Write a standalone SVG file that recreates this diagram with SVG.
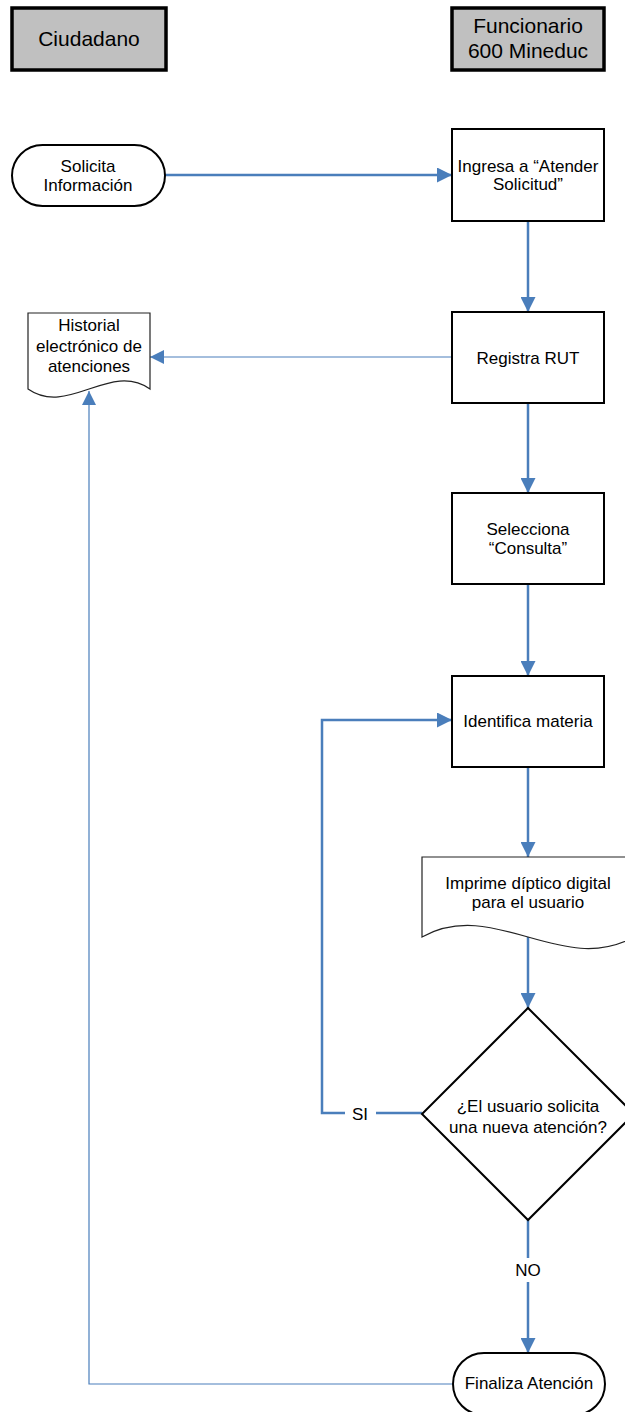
<svg xmlns="http://www.w3.org/2000/svg" width="625" height="1412" viewBox="0 0 625 1412">
  <defs>
    <style>
      text { font-family: "Liberation Sans", Arial, sans-serif; font-size: 17px; fill: #000; text-anchor: middle; }
      .hdr rect { fill: #c0c0c0; stroke: #000; stroke-width: 3.5; }
      .hdr text { font-size: 21px; }
      .box { fill: #fff; stroke: #000; stroke-width: 2; }
      .doc { fill: #fff; stroke: #222; stroke-width: 1.2; }
      .dec { fill: #fff; stroke: #000; stroke-width: 2; }
      .flow { fill: none; stroke: #4a7ebb; stroke-width: 2.5; }
      .thin { fill: none; stroke: #4a7ebb; stroke-width: 1.2; }
      .lbl { fill: #fff; stroke: none; }
    </style>
    <marker id="arrow" viewBox="0 0 10 10" refX="10" refY="5" markerWidth="6" markerHeight="6" markerUnits="strokeWidth" orient="auto">
      <path d="M0,0 L10,5 L0,10 Z" fill="#4a7ebb"/>
    </marker>
    <marker id="arrowThin" viewBox="0 0 10 10" refX="10" refY="5" markerWidth="12" markerHeight="12" markerUnits="strokeWidth" orient="auto">
      <path d="M0,0 L10,5 L0,10 Z" fill="#4a7ebb"/>
    </marker>
  </defs>

  <!-- lane headers -->
  <g id="lane-ciudadano" class="hdr">
    <rect x="12" y="8" width="154" height="62"/>
    <text x="89" y="46">Ciudadano</text>
  </g>
  <g id="lane-funcionario" class="hdr">
    <rect x="452" y="8" width="152" height="62"/>
    <text x="528" y="33">Funcionario</text>
    <text x="528" y="58">600 Mineduc</text>
  </g>

  <!-- connectors -->
  <g id="connectors">
    <path class="flow" d="M165,175 H452" marker-end="url(#arrow)"/>
    <path class="flow" d="M528,221 V312" marker-end="url(#arrow)"/>
    <path class="thin" d="M452,357 H150" marker-end="url(#arrowThin)"/>
    <path class="flow" d="M528,403 V493" marker-end="url(#arrow)"/>
    <path class="flow" d="M528,584 V676" marker-end="url(#arrow)"/>
    <path class="flow" d="M528,767 V857" marker-end="url(#arrow)"/>
    <path class="flow" d="M528,937 V1008" marker-end="url(#arrow)"/>
    <path class="flow" d="M422,1113 H322 V720 H452" marker-end="url(#arrow)"/>
    <rect class="lbl" x="345" y="1103" width="31" height="22"/>
    <text x="360" y="1120">SI</text>
    <path class="flow" d="M528,1220 V1353" marker-end="url(#arrow)"/>
    <rect class="lbl" x="511" y="1258" width="34" height="24"/>
    <text x="528" y="1276">NO</text>
    <path class="thin" d="M452,1384 H89 V391" marker-end="url(#arrowThin)"/>
  </g>

  <!-- nodes -->
  <g id="solicita">
    <rect class="box" x="12" y="145" width="153" height="61" rx="30.5" ry="30.5"/>
    <text x="88" y="172">Solicita</text>
    <text x="88" y="191">Información</text>
  </g>
  <g id="ingresa">
    <rect class="box" x="452" y="129" width="152" height="92"/>
    <text x="528" y="172">Ingresa a “Atender</text>
    <text x="528" y="190">Solicitud”</text>
  </g>
  <g id="historial">
    <path class="doc" d="M28,313 H150 V389 C110,417 68,361 28,389 Z" transform="matrix(-1 0 0 1 178 0)"/>
    <text x="89" y="331">Historial</text>
    <text x="89" y="352">electrónico de</text>
    <text x="89" y="372">atenciones</text>
  </g>
  <g id="registra">
    <rect class="box" x="452" y="312" width="152" height="91"/>
    <text x="528" y="364">Registra RUT</text>
  </g>
  <g id="selecciona">
    <rect class="box" x="452" y="493" width="152" height="91"/>
    <text x="528" y="535">Selecciona</text>
    <text x="528" y="554">“Consulta”</text>
  </g>
  <g id="identifica">
    <rect class="box" x="452" y="676" width="152" height="91"/>
    <text x="528" y="727">Identifica materia</text>
  </g>
  <g id="imprime">
    <path class="doc" d="M422,857 H634 V937 C562,897 494,977 422,937 Z" transform="matrix(-1 0 0 1 1056 0)"/>
    <text x="528" y="889">Imprime díptico digital</text>
    <text x="528" y="908">para el usuario</text>
  </g>
  <g id="decision">
    <path class="dec" d="M528,1008 L634,1114 L528,1220 L422,1114 Z"/>
    <text x="528" y="1112">¿El usuario solicita</text>
    <text x="528" y="1133">una nueva atención?</text>
  </g>
  <g id="finaliza">
    <rect class="box" x="453" y="1353" width="152" height="62" rx="31" ry="31"/>
    <text x="529" y="1389">Finaliza Atención</text>
  </g>
</svg>
